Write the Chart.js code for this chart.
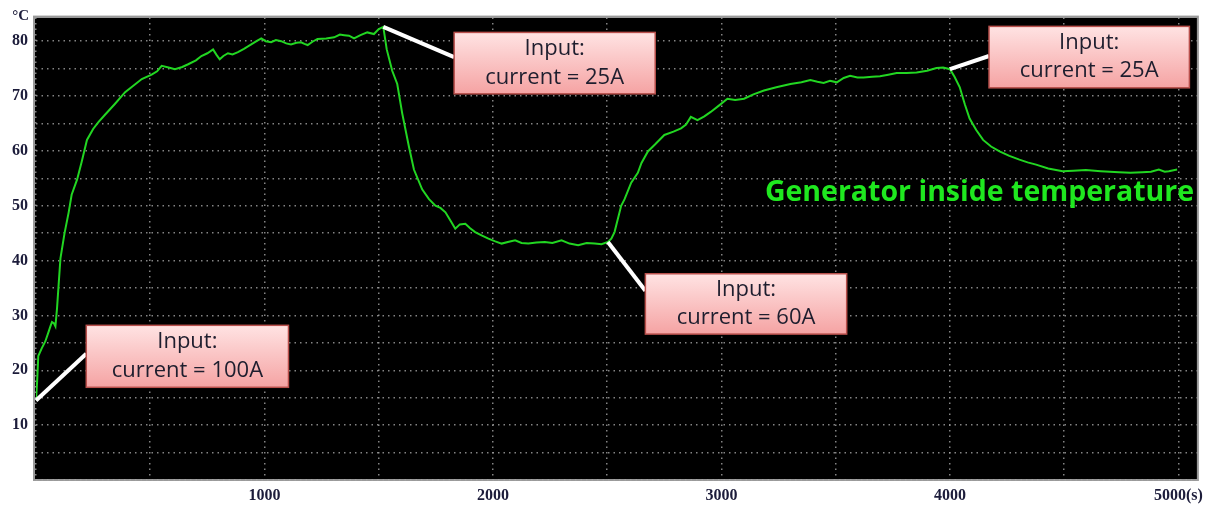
<!DOCTYPE html>
<html>
<head>
<meta charset="utf-8">
<title>Generator inside temperature</title>
<script src="https://cdn.jsdelivr.net/npm/chart.js@4/dist/chart.umd.min.js"></script>
<style>
    body { margin: 0; background: #ffffff; }
    #wrap { width: 1209px; height: 505px; }
</style>
</head>
<body>
<div id="wrap"><canvas id="tempChart" width="1209" height="505"></canvas></div>
<script>
// time in seconds, temperature in degC
const timeS = [
    0, 5, 10, 25, 41, 55, 63, 70, 78, 85, 92, 99, 107, 125, 143, 156, 180, 200, 223, 250,
    274, 300, 346, 390, 430, 463, 506, 530, 550, 580, 608, 640, 666, 700, 724, 750, 775, 790, 804, 820,
    840, 860, 884, 910, 942, 965, 986, 1005, 1029, 1050, 1073, 1095, 1116, 1140, 1160, 1175, 1189, 1210, 1232, 1270,
    1305, 1330, 1349, 1370, 1392, 1420, 1450, 1479, 1500, 1520,
    1535, 1559, 1581, 1603, 1632, 1654, 1690, 1720, 1748, 1770, 1792, 1815, 1835, 1855, 1879, 1900, 1922, 1950, 1980, 2010,
    2038, 2065, 2097, 2125, 2155, 2190, 2227, 2260, 2300, 2335, 2373, 2410, 2445, 2475, 2503,
    2518, 2532, 2561, 2576, 2605, 2634, 2650, 2678, 2710, 2750, 2790, 2823, 2845, 2866, 2895, 2925, 2953, 2990, 3026, 3060,
    3099, 3140, 3186, 3240, 3302, 3350, 3389, 3420, 3447, 3475, 3505, 3535, 3563, 3595, 3622, 3660, 3694, 3730, 3767, 3810,
    3854, 3900, 3941, 3970, 4000,
    4020, 4043, 4065, 4086, 4115, 4145, 4180, 4217, 4260, 4304, 4340, 4377, 4430, 4493, 4540, 4595, 4660, 4740, 4790, 4842,
    4880, 4914, 4940, 4958, 4994
];
const tempC = [
    14.5, 18, 22.6, 24, 25.3, 27, 28, 28.8, 28.6, 28, 31.3, 35.6, 40.4, 45, 48.8, 52, 54.8, 58, 62, 64,
    65.3, 66.5, 68.6, 70.7, 72, 73.1, 73.9, 74.5, 75.5, 75.2, 74.9, 75.3, 75.8, 76.5, 77.3, 77.8, 78.5, 77.5, 76.7, 77.3,
    77.8, 77.6, 78.0, 78.6, 79.4, 80.0, 80.5, 80.0, 79.8, 80.2, 80.0, 79.6, 79.4, 79.7, 79.8, 79.5, 79.3, 79.9, 80.4, 80.5,
    80.7, 81.2, 81.1, 81.0, 80.5, 81.1, 81.6, 81.3, 82.2, 82.6,
    78.5, 74.6, 72.2, 66.8, 60.8, 56.6, 53.0, 51.2, 50.0, 49.6, 48.8, 47.2, 45.8, 46.6, 46.7, 45.9, 45.2, 44.6, 44.0, 43.5,
    43.1, 43.4, 43.7, 43.2, 43.1, 43.3, 43.4, 43.2, 43.7, 43.1, 42.8, 43.2, 43.1, 43.0, 43.4,
    44.0, 45.2, 50.0, 51.2, 54.2, 56.0, 57.8, 59.9, 61.2, 62.9, 63.5, 64.1, 64.8, 66.2, 65.6, 66.3, 67.1, 68.3, 69.5, 69.3,
    69.5, 70.3, 71.0, 71.6, 72.2, 72.5, 72.9, 72.6, 72.4, 72.8, 72.5, 73.3, 73.7, 73.4, 73.4, 73.5, 73.6, 73.9, 74.2, 74.2,
    74.3, 74.6, 75.1, 75.2, 74.9,
    73.5, 71.6, 68.5, 65.9, 63.8, 62.0, 60.8, 59.9, 59.1, 58.4, 57.9, 57.5, 56.8, 56.3, 56.4, 56.5, 56.3, 56.1, 56.0, 56.1,
    56.2, 56.6, 56.2, 56.3, 56.6
];

// grid every 500 s / 5 degC, labels every 1000 s / 10 degC
const xTicks = [0, 500, 1000, 1500, 2000, 2500, 3000, 3500, 4000, 4500, 5000];
const yTicks = [0, 5, 10, 15, 20, 25, 30, 35, 40, 45, 50, 55, 60, 65, 70, 75, 80];

// callouts: where the current was changed
const noteTexts = ['current = 100A', 'current = 25A', 'current = 60A', 'current = 25A'];
const noteAt = [[0, 14.5], [1520, 82.6], [2503, 43.4], [4000, 74.9]];
const noteBox = [[220, 1105, 28.2, 16.9], [1830, 2710, 81.6, 70.4], [2667, 3548, 37.6, 26.6], [4171, 5048, 82.7, 71.5]];
const noteLineEnd = [23.0, 77.1, 34.5, 77.3];

const seriesLabel = 'Generator inside temperature';

const plotFrame = {
    id: 'plotFrame',
    beforeDraw(chart) {
        const { ctx, chartArea: a } = chart;
        ctx.save();
        ctx.fillStyle = '#000000';
        ctx.fillRect(a.left - 2, a.top, a.right - a.left + 2, a.bottom - a.top);
        ctx.strokeStyle = '#9a9a9a';
        ctx.lineWidth = 2;
        ctx.strokeRect(a.left - 2, a.top - 1, a.right - a.left + 2, a.bottom - a.top + 1);
        // unit above the y axis
        ctx.fillStyle = '#1c1c3a';
        ctx.font = 'bold 15px "Liberation Serif", serif';
        ctx.textAlign = 'right';
        ctx.textBaseline = 'middle';
        ctx.fillText('°C', a.left - 7, 16);
        ctx.restore();
    }
};

const callouts = {
    id: 'callouts',
    afterDatasetsDraw(chart) {
        const { ctx, scales: { x, y } } = chart;
        ctx.save();
        noteTexts.forEach((txt, i) => {
            const b = noteBox[i];
            const x0 = x.getPixelForValue(b[0]), x1 = x.getPixelForValue(b[1]);
            const y0 = y.getPixelForValue(b[2]), y1 = y.getPixelForValue(b[3]);

            ctx.strokeStyle = '#ffffff';
            ctx.lineWidth = 4;
            ctx.beginPath();
            ctx.moveTo(x.getPixelForValue(noteAt[i][0]), y.getPixelForValue(noteAt[i][1]));
            ctx.lineTo(x0, y.getPixelForValue(noteLineEnd[i]));
            ctx.stroke();

            const grad = ctx.createLinearGradient(0, y0, 0, y1);
            grad.addColorStop(0, '#ffe3e3');
            grad.addColorStop(1, '#f5a3a3');
            ctx.fillStyle = grad;
            ctx.fillRect(x0, y0, x1 - x0, y1 - y0);
            ctx.strokeStyle = '#b9504c';
            ctx.lineWidth = 1.5;
            ctx.strokeRect(x0, y0, x1 - x0, y1 - y0);

            ctx.fillStyle = '#1e1e2e';
            ctx.font = '22px "Open Sans", sans-serif';
            ctx.textAlign = 'center';
            ctx.textBaseline = 'middle';
            const cx = (x0 + x1) / 2, h = y1 - y0;
            ctx.fillText('Input:', cx, y0 + h * 0.26);
            ctx.fillText(txt, cx, y0 + h * 0.73);
        });

        ctx.fillStyle = '#1fe81f';
        ctx.font = 'bold 28.5px "Open Sans", sans-serif';
        ctx.textAlign = 'left';
        ctx.textBaseline = 'middle';
        ctx.fillText(seriesLabel, x.getPixelForValue(3190), y.getPixelForValue(52.4));
        ctx.restore();
    }
};

const gridColor = 'rgba(165,165,165,0.8)';
const tickFont = { family: '"Liberation Serif", serif', size: 16, weight: 'bold' };

new Chart(document.getElementById('tempChart'), {
    type: 'line',
    data: {
        datasets: [{
            label: seriesLabel,
            data: timeS.map((t, i) => ({ x: t, y: tempC[i] })),
            borderColor: '#22d622',
            borderWidth: 2,
            pointRadius: 0,
            tension: 0
        }]
    },
    options: {
        responsive: false,
        animation: false,
        layout: { padding: { top: 13, right: 7, left: 0, bottom: 0 } },
        plugins: {
            legend: { display: false },
            tooltip: { enabled: false }
        },
        scales: {
            x: {
                type: 'linear',
                min: 0,
                max: 5085,
                afterBuildTicks: axis => { axis.ticks = xTicks.map(v => ({ value: v })); },
                afterFit: scale => { scale.height = 25; },
                grid: { color: gridColor, lineWidth: 1.5, drawTicks: false },
                border: { display: false, dash: [1.5, 4] },
                ticks: {
                    autoSkip: false,
                    maxRotation: 0,
                    padding: 6,
                    color: '#1c1c3a',
                    font: tickFont,
                    callback: v => (v > 0 && v % 1000 === 0) ? (v === 5000 ? '5000(s)' : String(v)) : ''
                }
            },
            y: {
                min: 0,
                max: 84.3,
                afterBuildTicks: axis => { axis.ticks = yTicks.map(v => ({ value: v })); },
                afterFit: scale => { scale.width = 36; },
                grid: { color: gridColor, lineWidth: 1.5, drawTicks: false },
                border: { display: false, dash: [1.5, 4] },
                ticks: {
                    autoSkip: false,
                    padding: 8,
                    color: '#1c1c3a',
                    font: tickFont,
                    callback: v => (v > 0 && v % 10 === 0) ? String(v) : ''
                }
            }
        }
    },
    plugins: [plotFrame, callouts]
});
</script>
</body>
</html>
